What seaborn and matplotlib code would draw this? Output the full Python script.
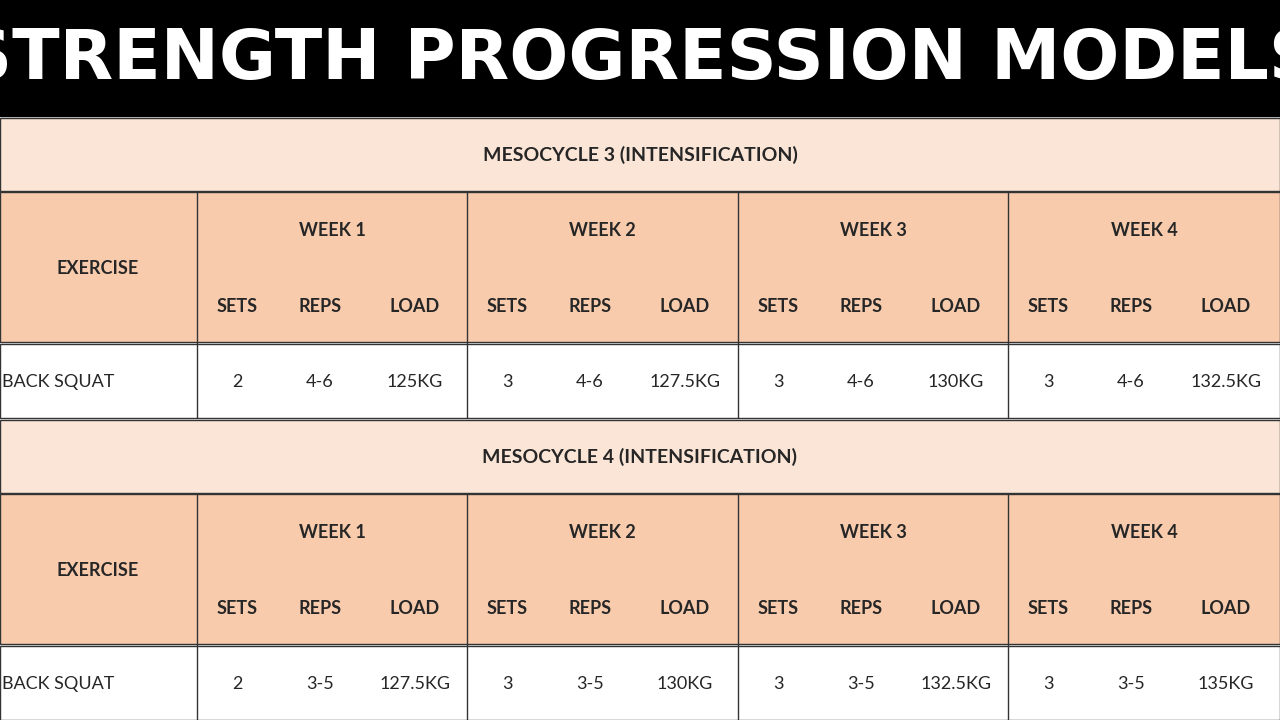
import matplotlib
matplotlib.use("Agg")
import matplotlib.pyplot as plt
import seaborn as sns
from matplotlib.patches import Rectangle

sns.set_theme(style="white")
plt.rcParams['font.family'] = ['Lato', 'DejaVu Sans']

title = "STRENGTH PROGRESSION MODELS"
blocks = ["MESOCYCLE 3 (INTENSIFICATION)", "MESOCYCLE 4 (INTENSIFICATION)"]
weeks = ["WEEK 1", "WEEK 2", "WEEK 3", "WEEK 4"]
subcols = ["SETS", "REPS", "LOAD"]
exercise = "BACK SQUAT"
sets = [[2, 3, 3, 3], [2, 3, 3, 3]]
reps = [["4-6", "4-6", "4-6", "4-6"], ["3-5", "3-5", "3-5", "3-5"]]
loads = [["125KG", "127.5KG", "130KG", "132.5KG"], ["127.5KG", "130KG", "132.5KG", "135KG"]]

LIGHT = "#FBE5D6"
DARK = "#F8CBAD"
fig = plt.figure(figsize=(12.8, 7.2), dpi=100)
ax = fig.add_axes([0, 0, 1, 1])
ax.set_xlim(0, 1280); ax.set_ylim(720, 0); ax.axis("off")

ax.add_patch(Rectangle((0, 0), 1280, 116, color="black"))
ax.text(640, 60, title, ha="center", va="center", color="white", fontsize=50,
        fontweight="heavy", family=["DejaVu Sans"])

xcols = [197, 467, 738, 1008, 1280]
offs = [40, 123, 218]
ec = "#333333"
for b in range(2):
    y0 = 118 + b * 302
    ax.add_patch(Rectangle((0, y0), 1280, 73, facecolor=LIGHT, edgecolor=ec, lw=1))
    ax.text(640, y0 + 37, blocks[b], ha="center", va="center", fontsize=14, fontweight="bold")
    yh = y0 + 74
    ax.add_patch(Rectangle((0, yh), 1280, 150, facecolor=DARK, edgecolor=ec, lw=1))
    ax.text(98, yh + 76, "EXERCISE", ha="center", va="center", fontsize=13, fontweight="bold")
    yd = yh + 152
    ax.add_patch(Rectangle((0, yd), 1280, 74, facecolor="white", edgecolor=ec, lw=1))
    ax.text(2, yd + 38, exercise, ha="left", va="center", fontsize=13)
    for w in range(4):
        x0 = xcols[w]
        ax.plot([x0, x0], [yh, yd + 74], color=ec, lw=1)
        ax.text((x0 + xcols[w + 1]) / 2, yh + 38, weeks[w], ha="center", va="center",
                fontsize=13, fontweight="bold")
        vals = [str(sets[b][w]), reps[b][w], loads[b][w]]
        for k in range(3):
            ax.text(x0 + offs[k], yh + 114, subcols[k], ha="center", va="center",
                    fontsize=13, fontweight="bold")
            ax.text(x0 + offs[k], yd + 38, vals[k], ha="center", va="center", fontsize=13)

fig.savefig("out.png", dpi=100)
